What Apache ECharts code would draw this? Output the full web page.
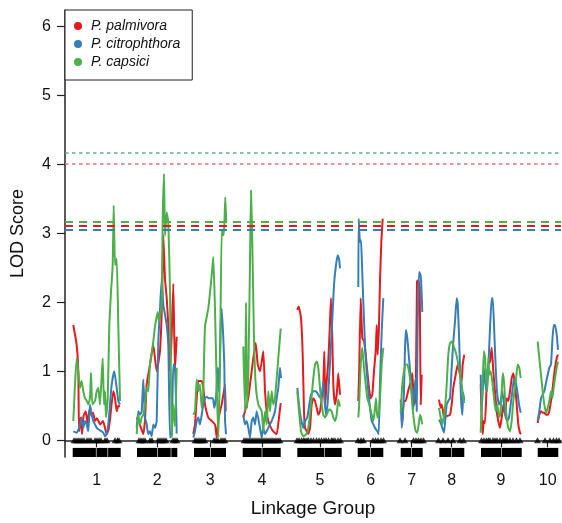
<!DOCTYPE html>
<html>
<head>
<meta charset="utf-8">
<script src="https://cdn.jsdelivr.net/npm/echarts@6/dist/echarts.min.js"></script>
<style>html,body{margin:0;padding:0;background:#fff}#c{width:562px;height:523px}</style>
</head>
<body>
<div id="c"></div>
<script>
// ---- Data (cumulative map position, LOD) ----
const groupLabels = ['1','2','3','4','5','6','7','8','9','10'];
const groupCenters = [31.7, 92.3, 145.3, 197, 255, 305.7, 346.7, 386.7, 436, 482.7];
const yTicks = [0,1,2,3,4,5,6];

// linkage group bar segments [start, end]
const barSegments = [
  [7.7,30.9],[31.5,42.5],[43.1,55.7],
  [72,92],[92.6,105.7],[106.3,112.3],
  [129,145.2],[145.8,161],
  [177.7,196.7],[197.3,215.7],
  [232.3,259],[259.6,276.7],
  [292.7,305.4],[306,318.3],
  [335.7,346.4],[347,357.7],
  [374.3,386.4],[387,399.3],
  [416,436.4],[437,456.7],
  [472.7,493.3]
];

// marker positions (triangles)
const markers = [
  9,11,13,15,17,19,22,24,26,30,32,34,36,40,42,50,52.5,54,
  74,76,78,80,85,87,93,95,97,99,101,108,110,112,
  130,132,134,136,138,140,149,151,153,156,158,160,
  179,181,183,185,187,189,191,193,195,197,199,201,203,205,207,209,211,213,215,
  232,234,236.5,238.5,240,242,243.5,246,248.5,251.5,254,256.5,259,261,263.5,266.5,268,270,273,275.5,
  293,296,298.5,308,310.5,313,316,318.5,
  335,340,348.5,351,353.5,356,358.5,
  373.5,378,383,388,395,398.5,
  416.5,419,421.5,423.5,425,428,430,432,435,438,440,442,445,448,451.5,455,
  472.5,480,485,488.5,491.5,494
];

// P. palmivora (red)
const palmivora = [
 [[8.3,1.67],[11.7,1.38],[13.3,1.0],[14,0.13],[15.5,0.33],[17,0.09],[18.5,0.35],[20.7,0.42],[22.5,0.25],[24.5,0.45],[26,0.37],[28,0.4],[30,0.28],[32,0.32],[35,0.23],[38,0.28],[40,0.18],[41.7,0.09],[43.5,0.15],[45,0.3],[48.3,0.71],[50,0.61],[51.7,0.42],[53.3,0.5],[55,0.49]],
 [[71.7,0.33],[73.5,0.28],[75,0.22],[78.3,0.09],[80,0.3],[81.7,0.81],[85,1.1],[88.3,1.38],[91.7,1.0],[95,1.29],[97,2.0],[98.3,2.97],[100,2.34],[101.7,2.06],[103.3,1.67],[105,1.0],[106.7,1.53],[108.3,2.27],[110,1.0],[111.7,1.5]],
 [[128.3,0.09],[130,0.23],[131.7,0.61],[133.3,0.86],[136.7,0.86],[138.3,0.76],[140,0.52],[143.3,0.33],[146.7,0.28],[150,0.23],[151.7,0.04],[153.3,0.28],[155,0.42],[156.7,0.52],[158.3,0.66],[160,0.81],[160.7,0.42]],
 [[178.3,0.33],[180,0.42],[181.7,0.52],[183.3,0.61],[185,0.81],[186.7,1.0],[188.3,1.19],[190.7,1.41],[192.7,1.1],[195,1.0],[198.3,1.29],[200,0.71],[201.7,0.42],[203.3,0.28],[206,0.18],[208.3,0.13],[211.7,0.09],[214,0.33],[215.7,0.54]],
 [[232.3,1.89],[233.7,1.94],[236,1.77],[237.7,1.24],[239,0.42],[240,0.18],[241.7,0.13],[243.3,0.09],[245,0.18],[246.7,0.52],[248.3,0.61],[250,0.57],[251.7,0.47],[253.3,0.37],[255,0.42],[256.7,0.61],[258.3,0.81],[259.3,1.29],[260.3,0.52],[261.7,0.85],[263.3,1.14],[265,1.72],[266,2.06],[267.3,1.48],[268.3,0.81],[270,0.52],[271.7,0.66],[273.3,0.97],[275,0.66]],
 [[293.3,0.57],[294.3,1.1],[295.7,2.06],[297.3,1.48],[299,1.44],[300.7,1.24],[302.3,1.0],[304,0.76],[305.7,0.61],[307.3,0.66],[309,1.0],[310.7,1.29],[311.7,1.67],[312.7,1.24],[314,1.67],[315,2.3],[316.3,2.87],[317.7,3.21]],
 [[337.3,0.28],[339,0.57],[340.7,0.57],[342.3,0.66],[344,0.76],[345.7,0.85],[347.3,0.97],[348.3,0.71],[349.3,0.52],[350.7,0.61],[352,2.3],[353.3,2.32],[354.7,2.2],[355.7,0.52],[356.7,0.95]],
 [[374,0.59],[375.7,0.47],[376.7,0.52],[377.7,0.45],[379,0.33],[381.7,0.35],[385,0.37],[386.7,0.52],[388.3,0.76],[390.7,0.95],[392.7,1.1],[395,0.95],[396.7,0.85],[397.7,1.1],[399.3,1.24]],
 [[415.7,0.81],[416.7,0.33],[417.7,0.09],[418.7,0.28],[420,0.25],[421.7,0.81],[423.3,1.1],[425,1.14],[426.7,1.34],[428.3,1.0],[430,0.71],[431.7,0.42],[433.3,0.28],[435,0.18],[436.7,0.33],[438.3,0.52],[440,0.37],[441.7,0.61],[443.3,0.57],[445,0.71],[446.7,0.9],[448.3,0.97],[450,0.81],[451.7,0.52],[453.3,0.23],[455,0.11],[456,0.09]],
 [[472.7,0.25],[474.3,0.37],[476,0.42],[477.7,0.4],[479.3,0.4],[481,0.37],[482.7,0.37],[484.3,0.42],[486,0.57],[487.3,0.71],[488.7,0.9],[490,1.05],[491.7,1.19],[493,1.24]]
];

// P. citrophthora (blue)
const citrophthora = [
 [[8.3,0.13],[11.7,0.11],[13.3,0.15],[15,0.23],[16.7,0.33],[18.3,0.18],[20,0.28],[21.7,0.23],[23.3,0.13],[25,0.52],[26.7,0.37],[28.3,0.28],[30,0.23],[31.7,0.18],[33.3,0.16],[36.7,0.13],[38.3,0.11],[40,0.06],[41.7,0.09],[43.3,0.23],[45,0.52],[46.7,0.81],[49.3,1.0],[51.7,0.76],[53.3,0.57],[55,0.52]],
 [[71.7,0.18],[73.3,0.42],[75,0.37],[76.7,0.42],[78.3,0.88],[80,0.33],[81.7,0.23],[83.3,0.09],[85,0.13],[86.7,0.06],[88.3,0.23],[90,0.18],[91.7,0.28],[93.3,1.43],[95,1.9],[96.7,2.34],[98.3,1.96],[100,1.82],[101.7,1.67],[103.3,1.38],[105,0.04],[106.7,0.08],[108.3,1.1],[110,1.07],[111.7,0.1]],
 [[128.3,0.04],[130,0.13],[131.7,0.28],[133.3,0.33],[135,0.23],[136.7,0.37],[138.3,0.52],[140,0.61],[141.7,0.63],[143.3,0.61],[146.7,0.61],[148,0.61],[149.3,0.47],[151,0.61],[152.7,1.05],[154,0.7],[155.7,1.67],[156.7,1.91],[158.3,1.48],[159.3,1.1],[160,0.3],[161,0.09]],
 [[178.3,0.37],[180,0.23],[181.7,0.28],[183.3,0.18],[185,0.04],[186.7,0.28],[188.3,0.33],[190,0.23],[191.7,0.42],[195,0.18],[196.7,0.04],[198.3,0.18],[200,0.09],[203.3,0.18],[206.7,0.28],[210,0.42],[211.7,0.61],[213.3,0.76],[215,1.05],[216,0.9]],
 [[232.3,0.76],[234,0.52],[235.7,0.33],[238.3,0.18],[240,0.28],[242.3,0.33],[244.3,0.52],[246,0.66],[248.3,0.71],[251,0.71],[253.3,0.66],[255.7,0.61],[257.3,0.71],[258.3,0.85],[259.3,0.61],[261,0.37],[262.7,0.55],[264.3,0.95],[266.7,1.58],[269,2.25],[271,2.54],[272.7,2.68],[274,2.63],[275,2.49]],
 [[293.3,2.22],[293.7,3.21],[295,2.87],[296,2.9],[297,2.54],[298.3,2.01],[300,1.38],[301.7,1.0],[303.3,0.71],[305,0.47],[306.7,0.28],[308.3,0.23],[310,0.18],[312.3,0.13],[313.7,0.09],[315,0.85],[316.7,1.58],[318.3,2.06]],
 [[335.7,0.59],[336.7,0.18],[337.7,0.33],[339,0.71],[340,1.34],[341,1.6],[342.3,1.48],[344,1.19],[345.7,0.9],[347.3,0.61],[348.3,0.45],[349.3,0.71],[350.7,0.9],[351.7,0.42],[352.7,1.67],[354,2.44],[355,2.42],[356,2.34],[356.7,2.1],[357.3,1.86]],
 [[374,0.3],[375.7,0.25],[377.3,0.18],[379,0.11],[380,0.25],[381.7,0.52],[383.3,0.57],[385,0.61],[386.7,1.05],[388.3,1.43],[390,1.72],[391.7,2.06],[392.7,1.98],[394,1.53],[395,1.05],[396,0.61],[397.3,0.37],[398.3,0.69],[399.3,0.57]],
 [[415.7,0.95],[416.7,0.42],[417.7,0.71],[418.7,1.05],[420,0.85],[421.7,0.71],[423.3,1.05],[425,1.62],[426.7,2.06],[427.7,2.06],[429,1.67],[430.7,1.05],[432.3,0.66],[434,0.52],[435.7,0.57],[437.3,0.71],[439,0.52],[440.7,0.33],[442.3,0.28],[444,0.33],[445.7,0.52],[447.3,0.71],[449,0.9],[450.7,0.85],[452.3,0.71],[454,0.52],[455.7,0.4]],
 [[472.7,0.28],[474.3,0.42],[476,0.61],[477.7,0.66],[479.3,0.71],[480.7,0.81],[482.7,0.95],[484.3,1.05],[486,1.1],[487.3,1.43],[488.7,1.67],[490,1.67],[491.7,1.53],[493,1.31]]
];

// P. capsici (green)
const capsici = [
 [[8.3,0.28],[10,0.81],[11.7,1.19],[13.3,1.0],[15,0.76],[16.7,0.86],[18.3,0.71],[20,0.61],[21.7,0.57],[23.3,0.52],[25,0.62],[26,0.98],[27.3,0.52],[30,0.57],[31.7,0.71],[33.3,0.76],[35,0.52],[36.7,0.95],[37.7,1.19],[39,0.52],[40,0.71],[41,0.33],[42.7,0.6],[44.3,1.67],[46,2.15],[47.7,2.54],[48.7,3.40],[50,2.54],[51.7,2.63],[53.3,1.67],[55,0.57]],
 [[71.7,0.09],[73.3,0.37],[75,0.23],[76.7,0.33],[78.3,0.37],[80,0.52],[81.7,0.76],[83.3,0.71],[85,1.1],[88.3,1.43],[90,1.65],[92.7,1.86],[94,1.72],[96.7,2.0],[97.7,3.2],[99,3.86],[100,2.97],[101.7,3.3],[103.3,3.16],[105,2.15],[106.7,0.04],[108.3,0.52],[110,0.2],[111.7,1.05]],
 [[128.3,0.37],[130,0.42],[131.7,0.88],[133.3,0.71],[135,0.81],[136.7,0.47],[138.3,0.71],[140,1.65],[143.3,1.91],[146.7,2.39],[148.3,2.66],[150,1.9],[151.7,0.8],[153.3,0.04],[155,1.1],[156.7,3.05],[158.3,2.97],[159.3,3.11],[160.3,3.52],[161.3,3.16]],
 [[178.3,1.36],[180,0.42],[181,2.0],[182,0.47],[183.3,0.95],[185,2.58],[186,3.62],[187.3,2.87],[189,1.48],[190.7,0.81],[193.3,0.52],[196.7,0.42],[198.3,0.13],[200,0.42],[201.7,0.23],[203.3,0.71],[205,0.42],[206.7,0.71],[208.3,0.52],[210,0.61],[213.3,1.19],[215.7,1.62]],
 [[232.3,0.71],[234,0.42],[236,0.13],[238.3,0.06],[241,0.08],[243.3,0.18],[245.7,0.47],[247.7,0.81],[250,1.1],[251.7,1.14],[253.3,1.05],[255,0.76],[256.7,0.52],[258.3,0.37],[260,0.33],[261.7,0.37],[264.3,0.45],[266.7,0.42],[268.3,0.33],[270,0.28],[271.7,0.37],[273.3,0.59],[275,0.49]],
 [[293.3,0.33],[294,0.47],[295.7,1.1],[297.3,1.34],[299,1.05],[300.7,0.81],[302.3,0.61],[304.3,0.52],[306.7,0.37],[308.3,0.28],[309.7,0.42],[311,0.61],[312.3,0.33],[313.7,0.37],[315,0.61],[316.7,1.1],[318.3,1.34]],
 [[335.7,0.4],[337.3,0.81],[339,1.0],[340.7,1.1],[342.3,1.1],[344,1.0],[345.7,0.81],[347.3,0.52],[349,0.28],[350.7,0.13],[352.3,0.11],[353.7,0.23],[355,0.37],[356,0.33],[357.3,0.23]],
 [[374,0.47],[375.7,0.33],[377.3,0.23],[380,0.47],[381.7,0.81],[383.3,1.24],[385,1.41],[386.7,1.43],[388.3,1.38],[390,1.31],[391.7,1.22],[393.3,1.1],[395,0.97],[396.7,0.81],[398.3,0.61],[399.3,0.54]],
 [[415.7,0.11],[416.7,0.57],[417.7,0.9],[419,1.29],[420,1.19],[421,0.95],[422.3,0.71],[423.3,1.19],[424.3,0.95],[425.7,1.0],[427.3,0.85],[429,0.61],[430.7,0.42],[432.3,0.52],[434,0.33],[435.3,0.37],[436.7,0.71],[437.7,0.97],[439,0.85],[440,0.61],[441.7,0.33],[443.3,0.18],[445,0.13],[446.7,0.28],[448.3,0.57],[450.7,0.85],[452.7,1.1],[454.3,1.05],[455.7,0.9]],
 [[472.7,1.43],[474.3,1.19],[476,0.95],[477.7,0.71],[479.3,0.52],[481,0.4],[482.7,0.47],[484.3,0.57],[486,0.71],[487.3,0.61],[488.7,0.76],[490,0.9],[491.7,1.05],[493,1.14]]
];

// significance thresholds
const thresholds = {
  palmivora: [3.11, 4.00],
  citrophthora: [3.05],
  capsici: [3.17, 4.16]
};

// ---- build ----
const X_MIN = 0, X_MAX = 496, Y_MIN = -0.242, Y_MAX = 6.235;
const BAR_TOP = -0.11;
const RED = '#e41a1c', BLUE = '#377eb8', GREEN = '#4daf4a';

function flatten(groups) {
  const out = [];
  groups.forEach((g, i) => {
    g.forEach(p => out.push(p));
    if (i < groups.length - 1) out.push([g[g.length - 1][0] + 1, '-']);
  });
  return out;
}
function lineSeries(name, color, groups, marks) {
  return {
    name, type: 'line', data: flatten(groups), showSymbol: false, symbol: 'none',
    connectNulls: false, smooth: 0.15, color,
    lineStyle: { width: 2, color }, z: 3, animation: false,
    markLine: {
      silent: true, symbol: ['none', 'none'], label: { show: false }, animation: false,
      data: marks
    }
  };
}
const dashed = (v, c) => ({ yAxis: v, lineStyle: { color: c, type: [8, 6], width: 2 } });
const dotted = (v, c) => ({ yAxis: v, lineStyle: { color: c, type: [3.5, 3.5], width: 1.5 } });

const FONT = '"Liberation Sans", Arial, sans-serif';
const chart = echarts.init(document.getElementById('c'), null, { renderer: 'canvas' });
chart.setOption({
  animation: false,
  backgroundColor: '#fff',
  grid: { left: 65, right: 1, top: 10, bottom: 63.5, containLabel: false },
  legend: {
    left: 65, top: 10, orient: 'vertical', icon: 'circle',
    itemWidth: 8, itemHeight: 8, itemGap: 4,
    padding: [9, 12, 11, 9],
    borderColor: '#222', borderWidth: 1, backgroundColor: '#fff',
    textStyle: { fontFamily: FONT, fontSize: 14, fontStyle: 'italic', color: '#111', lineHeight: 14, padding: [0, 0, 0, 4] },
    data: ['P. palmivora', 'P. citrophthora', 'P. capsici'],
    z: 10
  },
  xAxis: {
    type: 'value', min: X_MIN, max: X_MAX,
    name: 'Linkage Group', nameLocation: 'middle', nameGap: 42,
    nameTextStyle: { fontFamily: FONT, fontSize: 19, color: '#111' },
    axisLine: { show: true, lineStyle: { color: '#222', width: 1.5 } },
    axisTick: { show: true, customValues: groupCenters, length: 7, lineStyle: { color: '#222', width: 1.2 } },
    axisLabel: {
      customValues: groupCenters, margin: 16, fontFamily: FONT, fontSize: 16, color: '#111',
      formatter: v => {
        let best = 0;
        groupCenters.forEach((c, i) => { if (Math.abs(c - v) < Math.abs(groupCenters[best] - v)) best = i; });
        return groupLabels[best];
      }
    },
    splitLine: { show: false }
  },
  yAxis: {
    type: 'value', min: Y_MIN, max: Y_MAX,
    name: 'LOD Score', nameLocation: 'middle', nameGap: 38, nameRotate: 90,
    nameTextStyle: { fontFamily: FONT, fontSize: 18, color: '#111' },
    axisLine: { show: true, lineStyle: { color: '#222', width: 1.5 } },
    axisTick: { show: true, customValues: yTicks, length: 8, lineStyle: { color: '#222', width: 1.2 } },
    axisLabel: { customValues: yTicks, margin: 14, fontFamily: FONT, fontSize: 16, color: '#111' },
    splitLine: { show: false }
  },
  series: [
    lineSeries('P. palmivora', RED, palmivora, [dashed(thresholds.palmivora[0], RED), dotted(thresholds.palmivora[1], '#e8707a')]),
    lineSeries('P. citrophthora', BLUE, citrophthora, [dashed(thresholds.citrophthora[0], BLUE)]),
    lineSeries('P. capsici', GREEN, capsici, [dashed(thresholds.capsici[0], GREEN), dotted(thresholds.capsici[1], '#5fae8c')]),
    {
      type: 'custom', data: barSegments, z: 4, animation: false, silent: true,
      encode: { x: [0, 1] },
      renderItem: (params, api) => {
        const p0 = api.coord([api.value(0), BAR_TOP]);
        const p1 = api.coord([api.value(1), Y_MIN]);
        return { type: 'rect', shape: { x: p0[0], y: p0[1], width: p1[0] - p0[0], height: p1[1] - p0[1] }, style: { fill: '#000' } };
      }
    },
    {
      type: 'scatter', data: markers.map(m => [m, 0]), symbol: 'triangle', symbolSize: [7, 6],
      itemStyle: { color: '#000' }, z: 5, silent: true, animation: false
    }
  ]
});
</script>
</body>
</html>
